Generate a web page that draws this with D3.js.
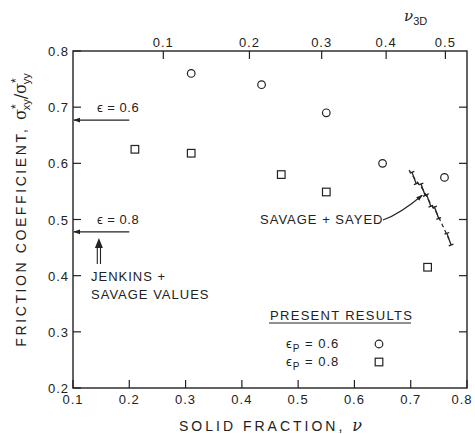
<!DOCTYPE html>
<html>
<head>
<meta charset="utf-8">
<script src="https://cdn.jsdelivr.net/npm/d3@7"></script>
<style>
  body { margin: 0; background: #fff; }
  svg text { font-family: "Liberation Sans", Arial, sans-serif; fill: #222; }
</style>
</head>
<body>
<svg id="chart" width="475" height="434"></svg>
<script>
// present results
const nuCircle = [0.31, 0.435, 0.55, 0.65, 0.76];
const muCircle = [0.76, 0.74, 0.69, 0.60, 0.575];
const nuSquare = [0.21, 0.31, 0.47, 0.55, 0.73];
const muSquare = [0.625, 0.618, 0.58, 0.549, 0.415];

// Savage + Sayed experiments
const ssNu = [0.697, 0.706, 0.722, 0.732, 0.746, 0.768];
const ssMu = [0.588, 0.574, 0.553, 0.534, 0.512, 0.465];
const ssErr = 0.011;

// Jenkins + Savage values
const jsEps = ["0.6", "0.8"];
const jsMu = [0.677, 0.478];

const xTicks = [0.1, 0.2, 0.3, 0.4, 0.5, 0.6, 0.7, 0.8];
const yTicks = [0.2, 0.3, 0.4, 0.5, 0.6, 0.7, 0.8];
const topTicks = [0.1, 0.2, 0.3, 0.4, 0.5];

const svg = d3.select("#chart");
const x = d3.scaleLinear().domain([0.1, 0.8]).range([73, 467]);
const y = d3.scaleLinear().domain([0.2, 0.8]).range([388, 51]);
// nu_3D = 4/(3 sqrt(pi)) nu^(3/2)
const c3d = 4 / (3 * Math.sqrt(Math.PI));
const nuFrom3D = v => Math.pow(v / c3d, 2 / 3);

const ink = "#222";
const fs = "13px";

// frame
svg.append("rect")
  .attr("x", x(0.1)).attr("y", y(0.8))
  .attr("width", x(0.8) - x(0.1)).attr("height", y(0.2) - y(0.8))
  .attr("fill", "none").attr("stroke", ink).attr("stroke-width", 1.4);

// bottom ticks
svg.selectAll(".xt").data(xTicks).enter().append("line")
  .attr("x1", d => x(d)).attr("x2", d => x(d))
  .attr("y1", y(0.2)).attr("y2", y(0.2) - 8)
  .attr("stroke", ink).attr("stroke-width", 1.2);
svg.selectAll(".xl").data(xTicks).enter().append("text")
  .attr("x", (d, i) => x(d) + (i === xTicks.length - 1 ? -5 : 0)).attr("y", 404)
  .attr("text-anchor", "middle").style("font-size", fs).style("letter-spacing", "1px")
  .text(d => d.toFixed(1));

// left ticks
svg.selectAll(".yt").data(yTicks).enter().append("line")
  .attr("x1", x(0.1)).attr("x2", x(0.1) + 8)
  .attr("y1", d => y(d)).attr("y2", d => y(d))
  .attr("stroke", ink).attr("stroke-width", 1.2);
svg.selectAll(".yl").data(yTicks).enter().append("text")
  .attr("x", 69).attr("y", d => y(d) + 5)
  .attr("text-anchor", "end").style("font-size", fs).style("letter-spacing", "1px")
  .text(d => d.toFixed(1));

// right ticks
svg.selectAll(".rt").data(yTicks.slice(1, -1)).enter().append("line")
  .attr("x1", x(0.8)).attr("x2", x(0.8) - 8)
  .attr("y1", d => y(d)).attr("y2", d => y(d))
  .attr("stroke", ink).attr("stroke-width", 1.2);

// top nu_3D axis
svg.selectAll(".tt").data(topTicks).enter().append("line")
  .attr("x1", d => x(nuFrom3D(d))).attr("x2", d => x(nuFrom3D(d)))
  .attr("y1", y(0.8)).attr("y2", y(0.8) + 8)
  .attr("stroke", ink).attr("stroke-width", 1.2);
svg.selectAll(".tl").data(topTicks).enter().append("text")
  .attr("x", d => x(nuFrom3D(d))).attr("y", 47)
  .attr("text-anchor", "middle").style("font-size", fs).style("letter-spacing", "1px")
  .text(d => d.toFixed(1));
const t3d = svg.append("text").attr("x", 404).attr("y", 21)
  .style("font-size", "15px");
t3d.append("tspan").style("font-family", "'DejaVu Serif', serif").style("font-style", "italic").text("ν");
t3d.append("tspan").attr("dy", 4).style("font-size", "11px").text("3D");

// axis titles
const xt = svg.append("text").attr("x", 272).attr("y", 431)
  .attr("text-anchor", "middle").style("font-size", "14px").style("letter-spacing", "3px");
xt.append("tspan").text("SOLID  FRACTION,  ");
xt.append("tspan").style("font-family", "'DejaVu Serif', serif").style("font-style", "italic").style("font-size", "16px").text("ν");

const yt = svg.append("text")
  .attr("transform", "translate(26,210) rotate(-90)")
  .attr("text-anchor", "middle").style("font-size", "14px").style("letter-spacing", "2.6px");
yt.append("tspan").text("FRICTION  COEFFICIENT,  ");
yt.append("tspan").style("font-family", "'DejaVu Serif', serif").style("letter-spacing", "0px").style("font-size", "16px").text("σ");
yt.append("tspan").attr("dy", -6).style("font-size", "12px").style("letter-spacing", "0px").text("*");
yt.append("tspan").attr("dx", -6).attr("dy", 10).style("font-size", "11px").style("letter-spacing", "0px").text("xy");
yt.append("tspan").attr("dy", -4).style("font-family", "'DejaVu Serif', serif").style("letter-spacing", "0px").style("font-size", "16px").text("/σ");
yt.append("tspan").attr("dy", -6).style("font-size", "12px").style("letter-spacing", "0px").text("*");
yt.append("tspan").attr("dx", -6).attr("dy", 10).style("font-size", "11px").style("letter-spacing", "0px").text("yy");

// markers
const defs = svg.append("defs");
defs.append("marker").attr("id", "ah").attr("viewBox", "0 0 10 10")
  .attr("refX", 9).attr("refY", 5).attr("markerWidth", 6).attr("markerHeight", 6)
  .attr("orient", "auto-start-reverse")
  .append("path").attr("d", "M0,1.5 L10,5 L0,8.5 Z").attr("fill", ink);

svg.selectAll(".circ").data(nuCircle).enter().append("circle")
  .attr("cx", d => x(d)).attr("cy", (d, i) => y(muCircle[i])).attr("r", 3.8)
  .attr("fill", "none").attr("stroke", ink).attr("stroke-width", 1.2);
svg.selectAll(".sq").data(nuSquare).enter().append("rect")
  .attr("x", d => x(d) - 3.8).attr("y", (d, i) => y(muSquare[i]) - 3.8)
  .attr("width", 7.6).attr("height", 7.6)
  .attr("fill", "none").attr("stroke", ink).attr("stroke-width", 1.2);

// Jenkins + Savage arrows
jsMu.forEach((m, i) => {
  svg.append("line")
    .attr("x1", x(0.2)).attr("x2", x(0.1) + 1)
    .attr("y1", y(m)).attr("y2", y(m))
    .attr("stroke", ink).attr("stroke-width", 1.2).attr("marker-end", "url(#ah)");
  svg.append("text").attr("x", 97).attr("y", y(m) - 8)
    .style("font-size", fs).style("letter-spacing", "0.5px")
    .text("ϵ = " + jsEps[i]);
});
// double arrow up
const ax = x(0.146);
svg.append("path")
  .attr("d", `M${ax - 1.6},264 V246 M${ax + 1.6},264 V246`)
  .attr("stroke", ink).attr("stroke-width", 1.1).attr("fill", "none");
svg.append("path")
  .attr("d", `M${ax},238 L${ax - 4},248 L${ax + 4},248 Z`)
  .attr("fill", ink);
svg.append("text").attr("x", 91).attr("y", 281).style("font-size", fs).style("letter-spacing", "1px").text("JENKINS  +");
svg.append("text").attr("x", 91).attr("y", 299).style("font-size", fs).style("letter-spacing", "1px").text("SAVAGE  VALUES");

// Savage + Sayed dashed curve with error bars
const ssLine = d3.line().x(d => x(d[0])).y(d => y(d[1]));
svg.append("path").datum(ssNu.map((n, i) => [n, ssMu[i]]))
  .attr("d", ssLine).attr("fill", "none").attr("stroke", ink)
  .attr("stroke-width", 1.2).attr("stroke-dasharray", "4,3");
const half = y(0.5 - ssErr) - y(0.5);
const eb = svg.selectAll(".eb").data(ssNu.slice(1)).enter().append("g")
  .attr("transform", (d, i) => `translate(${x(d)},${y(ssMu[i + 1])}) rotate(-20)`);
eb.append("line").attr("y1", -half).attr("y2", half)
  .attr("stroke", ink).attr("stroke-width", 1.3);
[-half, half].forEach(h => {
  eb.append("line").attr("x1", -2.5).attr("x2", 2.5).attr("y1", h).attr("y2", h)
    .attr("stroke", ink).attr("stroke-width", 1.3);
});

svg.append("text").attr("x", 260).attr("y", 224).style("font-size", fs).style("letter-spacing", "1px").text("SAVAGE  +  SAYED");
svg.append("path")
  .attr("d", `M383,220 Q400,214 ${x(0.724) - 2},${y(0.545) + 1}`)
  .attr("fill", "none").attr("stroke", ink).attr("stroke-width", 1.1).attr("marker-end", "url(#ah)");

// legend
svg.append("text").attr("x", 270).attr("y", 320).style("font-size", fs).style("letter-spacing", "1.3px").text("PRESENT  RESULTS");
svg.append("line").attr("x1", 269).attr("x2", 411).attr("y1", 323).attr("y2", 323).attr("stroke", ink).attr("stroke-width", 1);
const legRows = [["0.6", "c"], ["0.8", "s"]];
legRows.forEach((r, i) => {
  const yy = 348 + i * 18;
  const t = svg.append("text").attr("x", 286).attr("y", yy).style("font-size", fs).style("letter-spacing", "1px");
  t.append("tspan").text("ϵ");
  t.append("tspan").attr("dy", 4).style("font-size", "10px").text("P");
  t.append("tspan").attr("dy", -4).text(" = " + r[0]);
  if (r[1] === "c") {
    svg.append("circle").attr("cx", 379).attr("cy", yy - 4).attr("r", 3.8)
      .attr("fill", "none").attr("stroke", ink).attr("stroke-width", 1.2);
  } else {
    svg.append("rect").attr("x", 375.2).attr("y", yy - 7.8).attr("width", 7.6).attr("height", 7.6)
      .attr("fill", "none").attr("stroke", ink).attr("stroke-width", 1.2);
  }
});
</script>
</body>
</html>
